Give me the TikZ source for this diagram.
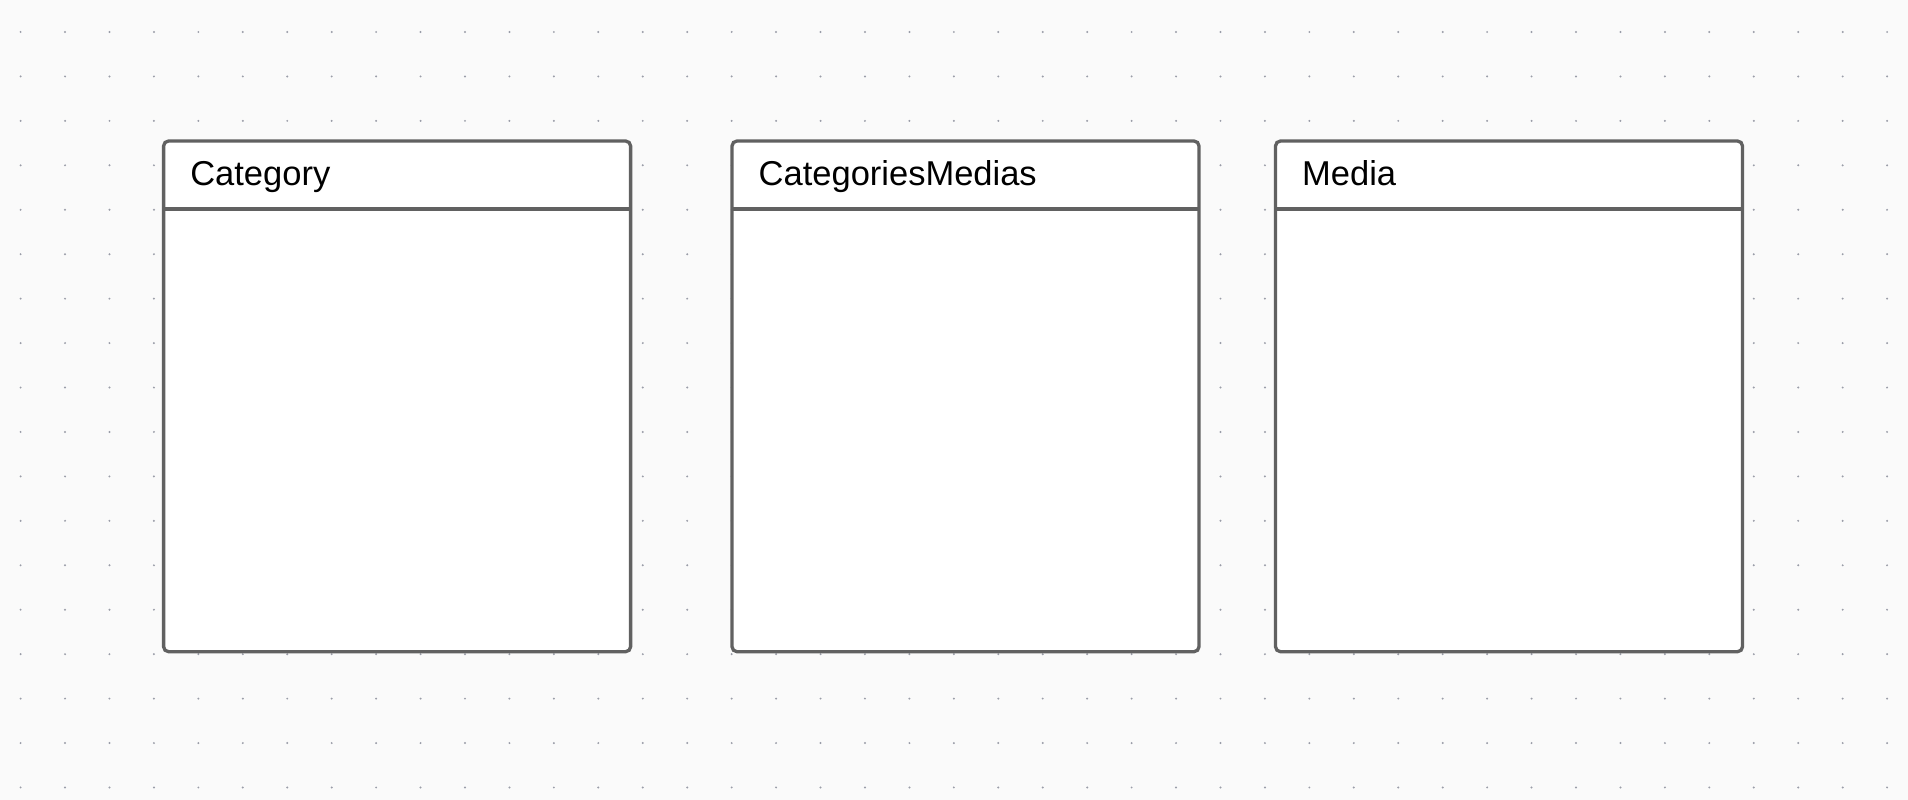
\documentclass[tikz,border=0pt]{standalone}
\usepackage{fontspec}
\setmainfont{Liberation Sans}
\usetikzlibrary{calc}
\definecolor{bgcol}{HTML}{FAFAFA}
\definecolor{dotcol}{HTML}{9A9DA8}
\definecolor{edgecol}{HTML}{616161}
\tikzset{
  tablebox/.style={draw=edgecol, fill=white, line width=3.3pt, rounded corners=5pt,
    minimum width=467pt, minimum height=510.7pt, inner sep=0pt, outer sep=0pt},
  headline/.style={draw=edgecol, line width=3.3pt},
  titletext/.style={anchor=base west, inner sep=0pt, font=\fontsize{34.5}{41}\selectfont, text=black},
}
\begin{document}
\begin{tikzpicture}[x=1pt,y=-1pt]
\useasboundingbox (0,0) rectangle (1908,800);
\fill[bgcol] (0,0) rectangle (1908,800);
\foreach \i in {0,...,42}{
  \foreach \j in {0,...,17}{
    \fill[dotcol] ({20.6+44.44*\i},{32+44.44*\j}) circle (1.1pt);
  }
}
\node[tablebox] (cat) at (397.1,396.35) {};
\node[tablebox] (catmed) at (965.5,396.35) {};
\node[tablebox] (media) at (1509,396.35) {};
\foreach \b in {cat,catmed,media}{
  \draw[headline] ($(\b.north west)+(0,68)$) -- ($(\b.north east)+(0,68)$);
}
\node[titletext] (cat-t) at ($(cat.north west)+(26.5,44.5)$) {Category};
\node[titletext] (catmed-t) at ($(catmed.north west)+(26.5,44.5)$) {CategoriesMedias};
\node[titletext] (media-t) at ($(media.north west)+(26.5,44.5)$) {Media};
\end{tikzpicture}
\end{document}
